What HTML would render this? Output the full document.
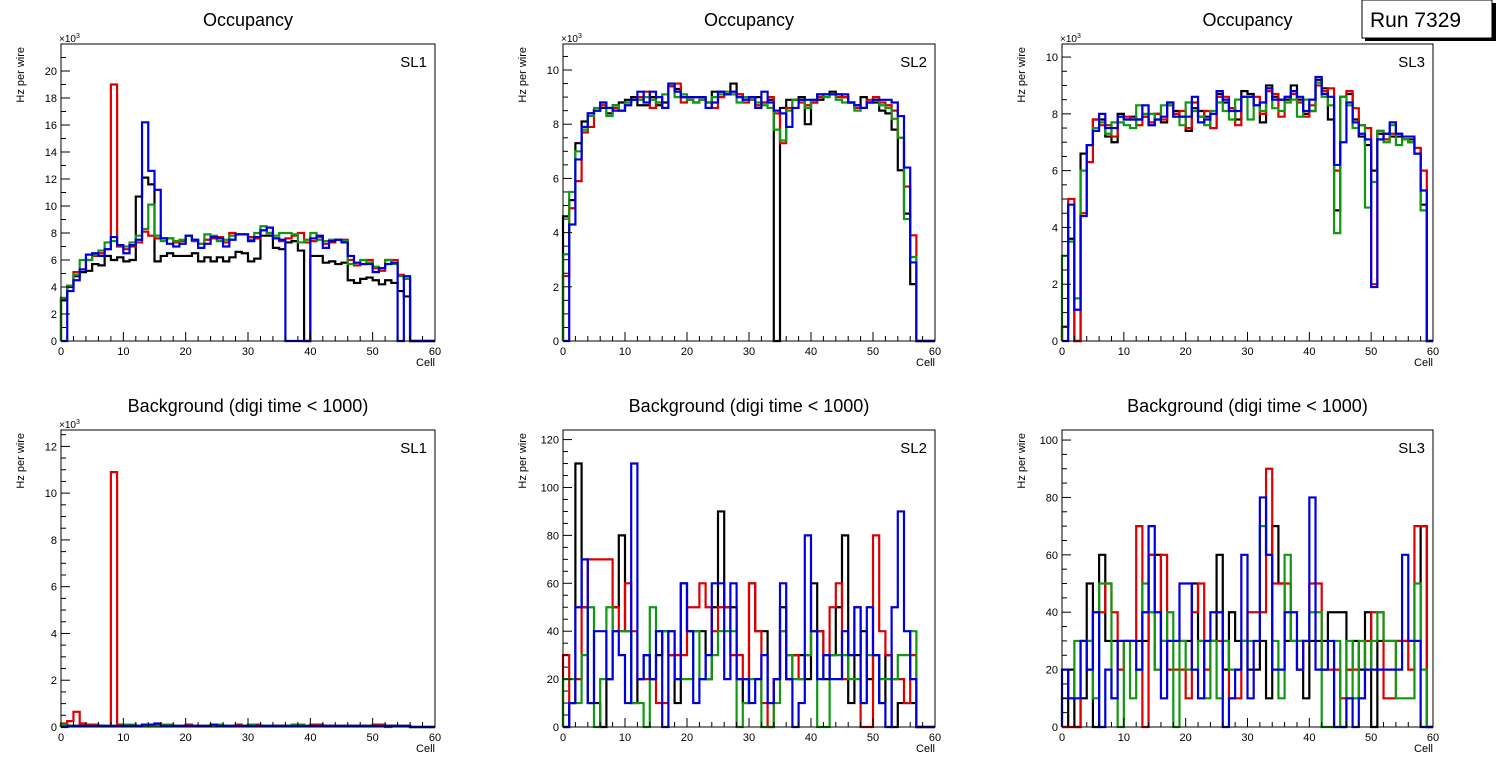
<!DOCTYPE html>
<html><head><meta charset="utf-8"><style>
html,body{margin:0;padding:0;background:#fff;}
svg{display:block;font-family:"Liberation Sans",Arial,sans-serif;}
</style></head><body>
<svg id="c" width="1496" height="772" viewBox="0 0 1496 772" xmlns="http://www.w3.org/2000/svg">
<g>
<rect x="1365" y="3" width="131" height="38" fill="#000"/>
<rect x="1362" y="0" width="130" height="38" fill="#fff" stroke="#000" stroke-width="1"/>
<text x="1370" y="27" font-size="21">Run 7329</text>
</g>
</svg>
<script>
// ---- data (bins 0..59) ----
const cells = Array.from({length:60},(_,i)=>i);
const topSL1Black=[3.1,4.0,4.8,5.1,5.2,5.7,5.6,6.3,6.0,6.2,5.9,6.0,10.7,12.1,11.6,5.9,6.3,6.5,6.3,6.3,6.3,6.5,5.9,6.2,5.9,6.2,5.9,6.2,6.6,6.5,5.9,6.1,7.8,7.8,6.9,6.8,7.3,7.4,6.7,0,6.3,6.3,5.8,5.9,5.7,5.8,4.5,4.3,4.6,4.7,4.5,4.2,4.5,4.3,3.7,3.3,0,0,0,0];
const topSL1Red=[3.0,4.1,5.1,5.3,6.0,6.3,6.5,6.8,19.0,7.0,6.8,7.0,7.3,8.1,7.8,7.6,7.6,7.6,7.3,7.4,7.8,7.4,7.2,7.5,7.6,7.7,7.3,8.0,7.9,7.9,7.7,7.6,8.2,8.0,7.6,7.4,7.6,7.8,8.0,7.3,7.4,7.7,7.2,7.3,7.5,7.5,6.0,5.6,5.7,6.0,5.4,5.2,6.0,6.0,4.9,4.6,0,0,0,0];
const topSL1Green=[3.2,4.1,4.9,6.0,6.0,6.4,6.7,7.3,7.4,7.1,7.0,7.3,7.8,8.3,10.1,7.8,7.4,7.6,7.4,7.5,7.8,7.5,7.2,7.9,7.8,7.4,7.5,7.8,7.9,7.9,7.5,8.0,8.5,8.0,7.8,8.0,8.0,7.9,7.3,7.5,8.0,7.5,7.4,7.5,7.5,7.4,5.7,5.8,6.0,5.8,5.5,5.4,6.0,5.7,4.8,4.6,0,0,0,0];
const topSL1Blue=[0,3.7,4.5,5.3,6.4,6.5,6.3,6.8,7.7,7.1,6.5,7.1,7.5,16.2,12.6,11.2,7.6,7.2,7.0,7.2,7.8,7.5,6.9,7.2,7.7,7.6,7.0,7.5,7.9,7.9,7.4,7.7,8.2,8.4,7.6,7.5,0,0,0,0,7.6,7.8,6.9,7.4,7.5,7.3,6.3,5.8,5.7,5.7,5.1,5.4,5.7,5.8,0,4.8,0,0,0,0];

const topSL2Black=[4.6,5.2,7.3,8.1,8.4,8.5,8.6,8.4,8.7,8.8,8.9,9.0,8.7,8.7,9.0,8.7,8.8,9.4,9.3,9.0,9.0,9.0,9.0,8.8,9.2,9.2,9.1,9.5,9.1,9.0,9.0,9.0,8.8,8.9,0,8.6,8.9,8.9,9.0,8.0,8.8,8.9,9.1,9.2,9.1,9.0,8.8,8.7,9.0,8.8,8.8,8.5,8.4,7.8,6.3,4.7,2.1,0,0,0];
const topSL2Red=[2.4,4.9,5.9,7.7,7.9,8.5,8.7,8.6,8.6,8.5,8.8,8.9,9.0,9.2,8.6,8.8,8.6,9.4,9.5,8.8,8.9,8.8,8.9,8.8,8.6,9.0,9.1,9.2,9.1,8.8,8.9,8.7,8.8,9.0,8.4,7.3,8.6,8.9,8.8,8.7,8.8,9.0,9.1,9.1,9.0,9.0,8.8,8.6,8.6,8.9,9.0,8.8,8.7,8.5,7.5,5.7,3.9,0,0,0];
const topSL2Green=[3.2,5.5,7.0,7.8,8.3,8.6,8.8,8.3,8.7,8.5,8.8,8.9,8.9,9.0,8.9,8.8,9.1,9.5,9.0,9.1,8.9,8.8,8.9,8.8,9.0,9.1,9.2,9.1,8.8,9.0,8.9,8.8,8.7,8.6,7.8,7.4,8.5,8.9,8.9,8.6,8.9,9.1,9.0,9.1,8.9,8.8,8.8,8.5,8.6,8.8,8.9,8.7,8.6,8.2,7.5,4.5,3.1,0,0,0];
const topSL2Blue=[0,4.3,6.7,7.9,8.4,8.5,8.8,8.6,8.5,8.5,8.7,8.9,9.2,8.8,9.2,9.0,8.6,9.5,9.2,9.0,9.0,9.0,9.0,8.6,8.8,9.2,9.1,9.2,9.0,8.9,9.0,8.6,9.2,8.8,8.5,8.4,7.9,8.6,8.9,8.9,8.9,9.1,9.1,9.1,9.1,9.1,8.8,8.7,8.6,8.8,8.9,8.9,8.9,8.8,8.3,6.4,2.9,0,0,0];

const topSL3Black=[0.5,3.6,0,6.6,6.9,7.8,7.8,7.2,7.0,8.0,7.8,7.9,7.8,7.9,7.6,8.0,7.7,8.4,8.1,7.9,7.4,8.2,8.1,7.9,7.5,8.7,8.4,8.2,7.8,8.8,8.7,8.3,7.7,9.0,8.6,8.5,8.5,9.0,8.5,8.0,8.1,9.2,8.9,7.8,4.6,8.6,8.7,7.8,7.2,6.9,6.0,7.3,7.3,7.2,7.2,7.1,7.1,6.8,4.8,0];
const topSL3Red=[0.5,5.0,0,4.5,6.3,7.8,7.6,7.6,7.2,7.9,7.9,7.8,7.6,7.9,7.7,8.0,7.8,8.3,8.0,8.1,7.5,8.4,7.9,8.1,7.5,8.6,8.6,8.2,7.6,8.6,8.6,8.6,8.0,8.8,8.7,7.9,8.6,8.7,8.4,7.9,8.3,9.0,8.8,8.9,6.0,8.6,8.8,8.2,7.6,7.5,2.0,7.4,7.1,7.3,7.3,7.1,7.0,6.8,6.0,0];
const topSL3Green=[3.0,3.5,1.5,6.0,6.9,7.5,7.7,7.3,7.7,7.7,7.6,7.5,8.3,8.0,8.0,7.8,8.3,8.3,7.9,7.6,8.4,8.1,7.9,7.6,8.1,8.4,8.1,7.8,8.5,8.6,7.8,8.3,8.1,8.9,8.2,8.1,8.4,8.5,7.9,8.5,8.1,9.1,8.6,8.3,3.8,8.6,8.3,7.5,7.6,4.7,5.6,7.4,7.0,7.6,6.9,7.1,7.0,6.6,4.6,0];
const topSL3Blue=[0,4.8,1.1,4.4,6.9,7.4,8.0,7.5,7.5,7.9,7.8,7.8,7.8,8.3,7.6,7.8,7.9,8.4,7.9,7.9,7.9,8.6,7.7,7.8,8.0,8.8,8.5,8.1,8.1,8.6,8.6,8.3,8.4,8.9,8.5,8.5,8.6,8.8,8.6,8.1,8.5,9.3,8.7,8.6,6.2,7.0,8.4,7.7,7.3,7.1,1.9,7.1,7.3,7.7,7.3,7.2,7.2,6.6,5.3,0];

const bgSL1Black=[0.05,0.05,0.05,0.05,0.05,0.05,0.05,0.05,0.05,0.05,0.05,0.05,0.05,0.05,0.05,0.1,0.05,0.05,0.05,0.05,0.05,0.05,0.05,0.05,0.05,0.05,0.05,0.05,0.05,0.05,0.05,0.05,0.05,0.05,0.05,0.05,0.05,0.05,0.05,0.05,0.05,0.05,0.05,0.05,0.05,0.05,0.05,0.05,0.05,0.05,0.05,0.05,0.05,0.05,0.05,0.05,0,0,0,0];
const bgSL1Red=[0.15,0.25,0.65,0.15,0.1,0.1,0.05,0.05,10.9,0.1,0.05,0.05,0.05,0.05,0.05,0.05,0.1,0.1,0.05,0.05,0.1,0.05,0.05,0.05,0.05,0.05,0.05,0.05,0.1,0.05,0.05,0.1,0.05,0.05,0.05,0.05,0.05,0.05,0.05,0.05,0.1,0.1,0.05,0.05,0.05,0.05,0.05,0.05,0.05,0.05,0.1,0.1,0.05,0.05,0.05,0.05,0,0,0,0];
const bgSL1Green=[0.1,0.05,0.05,0.05,0.05,0.05,0.05,0.05,0.05,0.05,0.1,0.1,0.05,0.05,0.05,0.05,0.1,0.1,0.05,0.05,0.05,0.05,0.05,0.05,0.05,0.1,0.05,0.05,0.05,0.05,0.1,0.05,0.05,0.05,0.05,0.05,0.05,0.1,0.1,0.05,0.05,0.05,0.05,0.05,0.05,0.05,0.05,0.05,0.05,0.05,0.05,0.05,0.0,0.05,0.05,0.05,0,0,0,0];
const bgSL1Blue=[0,0.05,0.05,0.05,0.05,0.05,0.05,0.05,0.05,0.05,0.05,0.05,0.05,0.1,0.1,0.15,0.05,0.05,0.05,0.05,0.05,0.05,0.05,0.05,0.1,0.05,0.05,0.05,0.05,0.05,0.05,0.05,0.05,0.05,0.05,0.05,0.05,0.05,0.05,0.05,0.05,0.05,0.05,0.05,0.05,0.05,0.05,0.05,0.05,0.05,0.05,0.05,0.05,0.05,0.05,0.05,0,0,0,0];

const bgSL2Black=[0,10,110,50,10,10,0,20,50,80,40,10,20,30,20,30,40,30,10,60,40,40,40,20,50,90,50,50,20,10,60,40,40,10,20,50,20,30,30,20,60,40,20,30,50,80,10,30,40,20,30,10,30,0,10,10,10,0,0,0];
const bgSL2Red=[30,10,20,50,70,70,70,70,50,40,60,40,20,20,20,10,10,30,30,30,50,50,60,50,40,50,50,30,30,20,60,40,10,0,20,40,30,30,20,30,40,40,30,50,60,20,30,50,0,0,80,40,30,20,20,10,30,0,0,0];
const bgSL2Green=[20,20,10,30,50,0,20,50,40,40,40,10,10,0,50,40,40,40,20,20,20,40,20,20,30,40,40,40,0,10,20,20,0,0,10,40,30,20,20,30,40,0,0,30,30,30,20,20,10,30,30,20,20,20,30,30,40,0,0,0];
const bgSL2Blue=[0,10,50,70,10,40,40,20,40,30,10,110,20,30,20,40,0,40,20,60,40,10,20,30,60,60,20,60,20,20,10,20,30,10,20,60,20,0,10,80,40,20,30,20,20,40,30,50,10,50,30,10,0,50,90,40,20,0,0,0];

const bgSL3Black=[0,20,0,10,50,0,60,30,30,30,30,30,30,30,60,60,30,30,30,30,30,50,30,30,30,60,20,40,30,30,20,20,30,10,70,50,30,30,30,10,30,30,30,40,40,40,20,30,20,40,0,30,30,30,30,30,30,30,70,0];
const bgSL3Red=[0,0,0,30,30,40,40,50,40,20,30,30,70,0,60,20,60,20,20,20,10,40,50,20,30,30,30,10,10,30,40,40,40,90,50,50,50,30,20,30,50,50,20,20,20,10,20,20,10,30,40,40,10,10,30,30,20,70,70,0];
const bgSL3Green=[10,10,30,30,30,10,50,50,10,0,30,10,20,50,40,20,30,40,0,30,20,20,30,10,30,10,30,20,20,30,30,30,70,60,30,10,60,30,30,30,40,40,0,0,30,0,30,10,30,20,30,40,30,30,10,10,10,50,20,0];
const bgSL3Blue=[20,10,10,30,20,40,0,20,10,30,30,30,20,40,70,40,10,30,30,50,50,20,10,30,40,40,0,10,20,60,10,30,80,60,20,20,40,40,20,30,80,20,20,30,0,0,10,0,10,20,20,20,20,20,20,60,30,30,0,0];

const yTicksTop1=[0,2,4,6,8,10,12,14,16,18,20];
const yTicksTop2=[0,2,4,6,8,10];
const yTicksTop3=[0,2,4,6,8,10];
const yTicksBg1=[0,2,4,6,8,10,12];
const yTicksBg2=[0,20,40,60,80,100,120];
const yTicksBg3=[0,20,40,60,80,100];
const xTicks=[0,10,20,30,40,50,60];

const NS="http://www.w3.org/2000/svg";
const svg=document.getElementById('c');
const colors=['#000000','#dd0000','#109910','#0000dd'];
const serNames=['black','red','green','blue'];
function mk(tag,attrs,parent){const e=document.createElementNS(NS,tag);for(const k in attrs)e.setAttribute(k,attrs[k]);(parent||svg).appendChild(e);return e;}

const panels=[
 {name:'occupancy-sl1',title:'Occupancy',sl:'SL1',x0:61,x1:435,y0:44,y1:341,ymax:22,ticks:yTicksTop1,minor:1,exp:true,series:[topSL1Black,topSL1Red,topSL1Green,topSL1Blue]},
 {name:'occupancy-sl2',title:'Occupancy',sl:'SL2',x0:563,x1:935,y0:44,y1:341,ymax:10.96,ticks:yTicksTop2,minor:0.5,exp:true,series:[topSL2Black,topSL2Red,topSL2Green,topSL2Blue]},
 {name:'occupancy-sl3',title:'Occupancy',sl:'SL3',x0:1062,x1:1433,y0:44,y1:341,ymax:10.46,ticks:yTicksTop3,minor:0.5,exp:true,series:[topSL3Black,topSL3Red,topSL3Green,topSL3Blue]},
 {name:'background-sl1',title:'Background (digi time < 1000)',sl:'SL1',x0:61,x1:435,y0:430,y1:727,ymax:12.7,ticks:yTicksBg1,minor:0.5,exp:true,series:[bgSL1Black,bgSL1Red,bgSL1Green,bgSL1Blue]},
 {name:'background-sl2',title:'Background (digi time < 1000)',sl:'SL2',x0:563,x1:935,y0:430,y1:727,ymax:124,ticks:yTicksBg2,minor:5,exp:false,series:[bgSL2Black,bgSL2Red,bgSL2Green,bgSL2Blue]},
 {name:'background-sl3',title:'Background (digi time < 1000)',sl:'SL3',x0:1062,x1:1433,y0:430,y1:727,ymax:103.5,ticks:yTicksBg3,minor:5,exp:false,series:[bgSL3Black,bgSL3Red,bgSL3Green,bgSL3Blue]}
];

panels.forEach(p=>{
  const g=mk('g',{});
  
  
  const sx=v=>p.x0+(v/60)*(p.x1-p.x0);
  const sy=v=>p.y1-(v/p.ymax)*(p.y1-p.y0);
  const cx=(p.x0+p.x1)/2;
  const t=mk('text',{x:cx,y:p.y0-18,'font-size':18,'text-anchor':'middle'},g);t.textContent=p.title;
  
  
  p.series.forEach((arr,si)=>{
    let d='M'+sx(0)+','+sy(0);
    cells.forEach(i=>{const y=sy(arr[i]);d+=' L'+sx(i)+','+y+' L'+sx(i+1)+','+y;});
    d+=' L'+sx(60)+','+sy(0);
    const path=mk('path',{d:d,fill:'none',stroke:colors[si],'stroke-width':2.2,'stroke-linejoin':'miter'},g);
    
    
  });
  const fr=mk('rect',{x:p.x0,y:p.y0,width:p.x1-p.x0,height:p.y1-p.y0,fill:'none',stroke:'#000','stroke-width':1},g);
  
  
  for(let v=0;v<=60;v+=2){
    const major=v%10===0;
    mk('line',{x1:sx(v),x2:sx(v),y1:p.y1,y2:p.y1-(major?9:5),stroke:'#000','stroke-width':1},g);
  }
  xTicks.forEach(v=>{
    const l=mk('text',{x:sx(v),y:p.y1+14,'font-size':11,'text-anchor':'middle'},g);l.textContent=v;
    
    
  });
  const xl=mk('text',{x:p.x1,y:p.y1+25,'font-size':11,'text-anchor':'end'},g);xl.textContent='Cell';
  
  
  for(let v=0;v<=p.ymax+1e-9;v+=p.minor){
    const major=p.ticks.some(tk=>Math.abs(tk-v)<1e-6);
    mk('line',{x1:p.x0,x2:p.x0+(major?9:5),y1:sy(v),y2:sy(v),stroke:'#000','stroke-width':1},g);
  }
  p.ticks.forEach(v=>{
    const l=mk('text',{x:p.x0-4,y:sy(v)+4,'font-size':11,'text-anchor':'end'},g);l.textContent=v;
    
    
  });
  if(p.exp){
    const e=mk('text',{x:p.x0-2,y:p.y0-2,'font-size':10},g);
    e.innerHTML='×10<tspan dy="-4" font-size="7">3</tspan>';
    
    
  }
  const yl=mk('text',{transform:'translate('+(p.x0-37)+','+(p.y0+3)+') rotate(-90)','font-size':11,'text-anchor':'end'},g);yl.textContent='Hz per wire';
  
  
  const s=mk('text',{x:p.x1-8,y:p.y0+23,'font-size':15,'text-anchor':'end'},g);s.textContent=p.sl;
  
  
});
</script>
</body></html>
